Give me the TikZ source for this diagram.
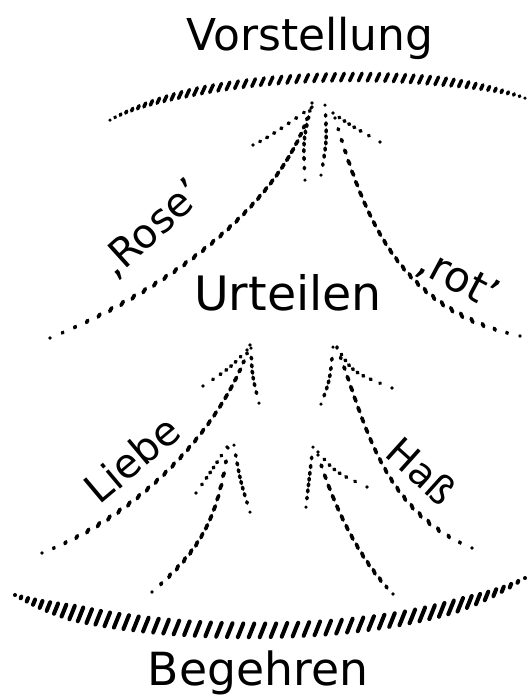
\documentclass[tikz,border=0pt]{standalone}
\usepackage{fontspec}
\setmainfont{DejaVu Sans}
% #1 curve, #2 number of gaps, #3 max half length (pt), #4 stroke angle, #5 taper, #6 line width
\newcommand\hatchit[6]{%
  \foreach \hki in {0,...,#2}{%
    \pgfmathsetmacro\hkT{\hki/#2}%
    \pgfmathsetmacro\hkL{#3*min(1,#5*sin(180*\hkT))}%
    \path #1 coordinate[pos=\hkT] (hkp);%
    \draw[line width=#6, line cap=round] (hkp) ++(#4:-\hkL pt) -- ++(#4:2*\hkL pt);%
  }}
\tikzset{
  title/.style={inner sep=0pt, anchor=base, font=\fontsize{25}{30}\selectfont},
  side/.style={inner sep=0pt, font=\fontsize{23}{27}\selectfont},
}
\begin{document}
\begin{tikzpicture}[x=0.02cm,y=-0.02cm]
\useasboundingbox (0,0) rectangle (530,698);
% labels
\node[title] (vor) at (310,50) {Vorstellung};
\node[title, font=\fontsize{27}{32}\selectfont] (urt) at (288,310) {Urteilen};
\node[title, font=\fontsize{26}{30}\selectfont] (beg) at (258,685) {Begehren};
\node[side, rotate=42] (rose) at (152,229) {‚Rose'};
\node[side, rotate=-28, font=\fontsize{24}{28}\selectfont] (rot) at (458,279) {‚rot'};
\node[side, rotate=40] (liebe) at (132,459) {Liebe};
\node[side, rotate=-42, font=\fontsize{22}{26}\selectfont] (hass) at (422,471) {Haß};
% top and bottom hatched arcs
\hatchit{(110,120) .. controls (200,70) and (430,65) .. (525,98)}{54}{2.4}{65}{1.5}{2pt}
\hatchit{(15,595) .. controls (120,640) and (400,650) .. (525,578)}{54}{4.2}{68}{2.2}{2.3pt}
% top fan
\hatchit{(312,107) .. controls (290,122) and (272,136) .. (253,145)}{8}{0.3}{30}{1.5}{2.1pt}
\hatchit{(312,103) .. controls (290,190) and (190,280) .. (50,338)}{33}{1.3}{60}{2}{2.1pt}
\hatchit{(311,108) .. controls (303,140) .. (305,180)}{9}{0.6}{95}{2}{2pt}
\hatchit{(325,105) .. controls (327,140) .. (321,175)}{9}{0.6}{88}{2}{2pt}
\hatchit{(333,113) .. controls (350,125) .. (380,142)}{7}{0.3}{150}{1.5}{2.1pt}
\hatchit{(335,118) .. controls (365,220) and (400,310) .. (520,336)}{27}{1.3}{115}{2}{2.1pt}
% middle left fan
\hatchit{(247,350) .. controls (230,368) .. (203,386)}{7}{0.3}{40}{1.5}{2.1pt}
\hatchit{(250,345) .. controls (225,420) and (150,510) .. (42,553)}{27}{1.3}{62}{2}{2.1pt}
\hatchit{(251,348) .. controls (252,375) .. (259,403)}{7}{0.6}{105}{2}{2pt}
% lower left fan
\hatchit{(227,447) .. controls (212,470) .. (196,493)}{7}{0.3}{55}{1.5}{2.1pt}
\hatchit{(228,448) .. controls (218,520) and (200,550) .. (152,592)}{15}{1.3}{68}{2}{2.1pt}
\hatchit{(234,445) .. controls (240,480) .. (250,512)}{9}{0.6}{105}{2}{2pt}
% middle right fan
\hatchit{(337,347) .. controls (352,372) .. (392,388)}{9}{0.3}{140}{1.5}{2.1pt}
\hatchit{(333,347) .. controls (330,380) .. (321,404)}{7}{0.6}{75}{2}{2pt}
\hatchit{(337,348) .. controls (365,420) and (380,510) .. (472,548)}{22}{1.3}{112}{2}{2.1pt}
% lower right fan
\hatchit{(313,447) .. controls (309,480) .. (306,507)}{8}{0.6}{85}{2}{2pt}
\hatchit{(318,452) .. controls (335,472) .. (367,487)}{7}{0.3}{140}{1.5}{2.1pt}
\hatchit{(318,455) .. controls (335,510) and (360,560) .. (393,594)}{15}{1.3}{112}{2}{2.1pt}
\end{tikzpicture}
\end{document}
